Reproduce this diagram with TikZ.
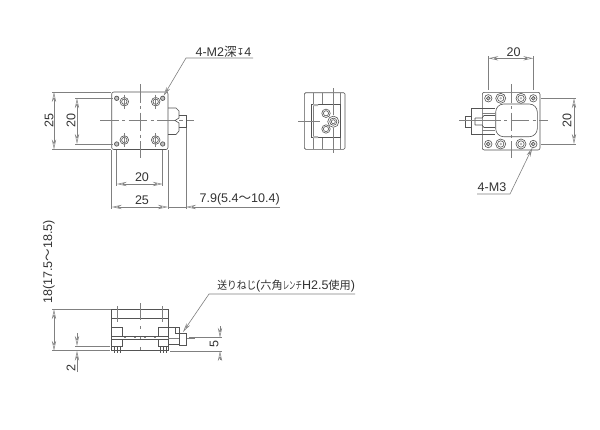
\documentclass[tikz,border=0pt]{standalone}
\usepackage{fontspec}
\usepackage{graphicx}
\setmainfont{Liberation Sans}
\newfontfamily\cjk{Noto Sans CJK JP}
\newfontfamily\dejav{DejaVu Sans}
\usetikzlibrary{arrows.meta}
\definecolor{ink}{gray}{0.33}
\definecolor{dimc}{gray}{0.5}
\definecolor{txt}{gray}{0.2}
\tikzset{
 part/.style={draw=ink,line width=0.45pt},
 thin part/.style={draw=dimc,line width=0.35pt},
 ext/.style={draw=dimc,line width=0.4pt},
 dimline/.style={draw=dimc,line width=0.4pt,{Stealth[length=7.5pt,width=3.2pt,open,fill=white]}-{Stealth[length=7.5pt,width=3.2pt,open,fill=white]}},
 single/.style={draw=dimc,line width=0.4pt,-{Stealth[length=7.5pt,width=3.2pt,open,fill=white]}},
 leader/.style={draw=dimc,line width=0.45pt},
 ctr/.style={draw=dimc,line width=0.4pt,dash pattern=on 14pt off 2.5pt on 2.5pt off 2.5pt},
 lbl/.style={text=txt,font=\fontsize{9.4}{11}\selectfont,inner sep=0pt},
 smallhole/.style={draw=ink,line width=0.5pt,fill=gray!50},
}
\begin{document}
\begin{tikzpicture}[x=0.75pt,y=-0.75pt]
\useasboundingbox (0,0) rectangle (600,429);
\fill[white] (0,0) rectangle (600,429);

% ---------- top view ----------
\draw[part,rounded corners=1.5pt] (111.7,92) rectangle (168,149.5);
\draw[ctr] (100,120.5) -- (194,120.5);
\draw[ctr] (140,84) -- (140,158);
\draw[part] (168,108) -- (176,108) -- (179,111) -- (179,118) -- (175,120.5) -- (179,123) -- (179,131) -- (176,134.5) -- (168,134.5);
\draw[part] (179,115) -- (186,115) -- (186,127.5) -- (179,127.5);
\foreach \x/\y in {116.7/98.3,162.7/98.3,116.7/144,162.7/144}{
  \draw[smallhole] (\x,\y) circle (2.2);
}
\foreach \x/\y in {124.3/101.7,155.7/101.7,124.3/140,155.7/140}{
  \draw[part] (\x,\y) circle (4.3);
  \draw[part] (\x,\y) circle (2.7);
  \draw[thin part] (\x,\y-7) -- (\x,\y+7);
}
% top view dimensions
\draw[ext] (52,92) -- (111,92) (52,149.5) -- (111,149.5);
\draw[ext] (75,98.3) -- (113,98.3) (75,144) -- (113,144);
\draw[dimline] (54,92) -- (54,149.5);
\draw[dimline] (77,98.3) -- (77,144);
\node[lbl,rotate=90] (a25) at (49,120.5) {25};
\node[lbl,rotate=90] (a20) at (71,120.5) {20};
\draw[ext] (116.7,150) -- (116.7,186) (162.7,150) -- (162.7,186);
\draw[ext] (111.7,150) -- (111.7,209) (168,150) -- (168,209) (186,128) -- (186,209);
\draw[dimline] (116.7,184) -- (162.7,184);
\draw[dimline] (111.7,207) -- (168,207);
\node[lbl] (b20) at (142,177.5) {20};
\node[lbl] (b25) at (142,200.5) {25};
\coordinate (d1) at (186,207);
\coordinate (d2) at (280,207);
\draw[single] (d2) -- (d1);
\draw[ext] (168,207) -- (186,207);
\node[lbl,anchor=south east] (b79) at (280,205.5) {7.9(5.4{\cjk～}10.4)};
% M2 leader
\coordinate (m1) at (163.5,96);
\coordinate (m2) at (186,58);
\coordinate (m3) at (253,58);
\draw[leader,{Stealth[length=7pt,width=3pt,open,fill=white]}-] (m1) -- (m2) -- (m3);
\node[lbl] (m2t) at (223.5,51.5) {4-M2{\cjk 深}\raisebox{0.2pt}{\dejav\fontsize{7}{7}\selectfont ↧}4};

% ---------- middle view ----------
\draw[part,rounded corners=1pt] (304.3,92.7) rectangle (345,149.3);
\draw[thin part] (313.3,92.7) -- (313.3,149.3);
\draw[thin part] (322.3,92.7) -- (322.3,104) (322.3,137.3) -- (322.3,149.3);
\draw[thin part] (340.5,92.7) -- (340.5,104) (340.5,137.3) -- (340.5,149.3);
\draw[thin part] (322.3,104) -- (340.5,104) (322.3,137.3) -- (340.5,137.3);
\draw[part] (340,104.5) -- (311.7,104.5) -- (311.7,137) -- (340,137) -- cycle;
\fill[gray!60] (313,104) rectangle (318,106) (313,136) rectangle (318,138);
\foreach \y in {113.3,129}{
  \draw[part,fill=white] (326,\y) circle (4.2);
  \draw[part] (326,\y) circle (2.6);
}
\draw[part,fill=white] (333.3,121.7) circle (5.6);
\draw[part] (333.3,121.7) circle (3.6);
\draw[part] (333.3,121.7) circle (2.0);
\draw[thin part] (298,121) -- (320,121);
\draw[thin part] (333.5,88) -- (333.5,115) (333.5,128) -- (333.5,153);

% ---------- right view ----------
\draw[part,rounded corners=1.5pt] (482.3,92.3) rectangle (540,150);
\draw[part,rounded corners=6pt] (495.7,104) rectangle (537.3,136.7);
\draw[ctr] (482,120.5) -- (548,120.5);
\draw[ctr] (511,84) -- (511,158);
\draw[part] (495,108.3) -- (471,108.3) -- (471,134) -- (495,134);
\draw[part] (471,116) -- (465,116) -- (465,127) -- (471,127);
\draw[part] (465,116) -- (465,127);
\draw[thin part] (482,113) -- (495,113) (482,130) -- (495,130);
\draw[part] (475,118) -- (482,118) -- (484,115.5) -- (495,115.5) (475,125) -- (482,125) -- (484,127.5) -- (495,127.5) (475,118) -- (475,125);
\draw[thin part] (459,120.5) -- (482,120.5);
\foreach \x in {488.3,533.3}{\foreach \y in {98.3,144}{
  \draw[part] (\x,\y) circle (3.7);
  \draw[part,fill=gray!40] (\x,\y) circle (1.9);
}}
\foreach \x in {500.7,521}{\foreach \y in {98.3,144}{
  \draw[part] (\x,\y) circle (5);
  \draw[part] (\x,\y) circle (3.2);
  \fill[gray!60] (\x,\y) circle (1.4);
}}
\draw[ext] (488.3,56) -- (488.3,90) (533.3,56) -- (533.3,90);
\draw[ext] (541,98.3) -- (576,98.3) (541,144) -- (576,144);
\draw[dimline] (488.3,58.3) -- (533.3,58.3);
\draw[dimline] (574,98.3) -- (574,144);
\node[lbl] (r20t) at (513.5,52) {20};
\node[lbl,rotate=90] (r20r) at (567,120.5) {20};
\coordinate (k1) at (532.5,147.5);
\coordinate (k2) at (510,194);
\coordinate (k3) at (477,194);
\draw[leader,{Stealth[length=7pt,width=3pt,open,fill=white]}-] (k1) -- (k2) -- (k3);
\node[lbl] (r43) at (492,187) {4-M3};

% ---------- front view ----------
\draw[part] (111.7,351) -- (111.7,309.3) -- (168,309.3) -- (168,351);
\draw[part] (111.7,318.3) -- (168,318.3);
\draw[thin part] (117,306) -- (117,322) (162.7,306) -- (162.7,322);
\draw[thin part] (140,303) -- (140,320);
\draw[thin part,dash pattern=on 2pt off 6pt] (140,326) -- (140,356);
\draw[part] (122,336) -- (122,327.3) -- (111.7,327.3);
\draw[part] (158,336) -- (158,327.3) -- (168,327.3);
\draw[part] (111.7,336) -- (168,336) (111.7,339.3) -- (168,339.3);
\draw[thin part,dash pattern=on 1.5pt off 6pt] (124,337.6) -- (158,337.6);
\draw[part] (122,339.3) -- (122,346.7) (158,339.3) -- (158,346.7);
\draw[part] (111.7,346.7) -- (122,346.7) (158,346.7) -- (168,346.7);
\draw[part] (111.7,350.7) -- (168,350.7);
\foreach \x in {114,117,120,160,163,166}{\draw[part] (\x,346.7) -- (\x,352.5);}
% knob
\draw[part] (168,327.3) -- (179,327.3) -- (179,333) -- (175.7,333) -- (175.7,327.3);
\draw[part] (168,344.5) -- (179,344.5);
\draw[part] (179,333) rectangle (186.5,345);
\draw[thin part] (168,338) -- (179,338);
\draw[ctr] (186.5,338) -- (195,338);
% front dimensions
\draw[ext] (52,309.3) -- (111,309.3) (52,350.7) -- (110,350.7);
\draw[ext] (75,346) -- (110,346);
\draw[dimline] (54,309.3) -- (54,350.7);
\node[lbl,rotate=90] (f18) at (49,262) {18(17.5{\cjk～}18.5)};
\draw[single] (77,333) -- (77,346);
\draw[single] (77,372) -- (77,350.7);
\node[lbl,rotate=90] (f2) at (71,368) {2};
\draw[ext] (189,337.7) -- (222,337.7) (170,351) -- (222,351);
\draw[single] (220,326) -- (220,337.7);
\draw[single] (220,360) -- (220,351);
\node[lbl,rotate=90] (f5) at (214,344) {5};
\coordinate (s1) at (183,332);
\coordinate (s2) at (209,294);
\coordinate (s3) at (355,294);
\draw[leader,{Stealth[length=7pt,width=3pt,open,fill=white]}-] (s1) -- (s2) -- (s3);
\node[lbl,anchor=base west] (ft) at (217,289.5) {\scalebox{0.87}[1]{\cjk\fontsize{8.4}{11}\selectfont 送りねじ}({\cjk\fontsize{8.4}{11}\selectfont 六角}\scalebox{0.6}[1]{\cjk\fontsize{8}{11}\selectfont レンチ}H2.5{\cjk\fontsize{8.4}{11}\selectfont 使用})};
\end{tikzpicture}
\end{document}
